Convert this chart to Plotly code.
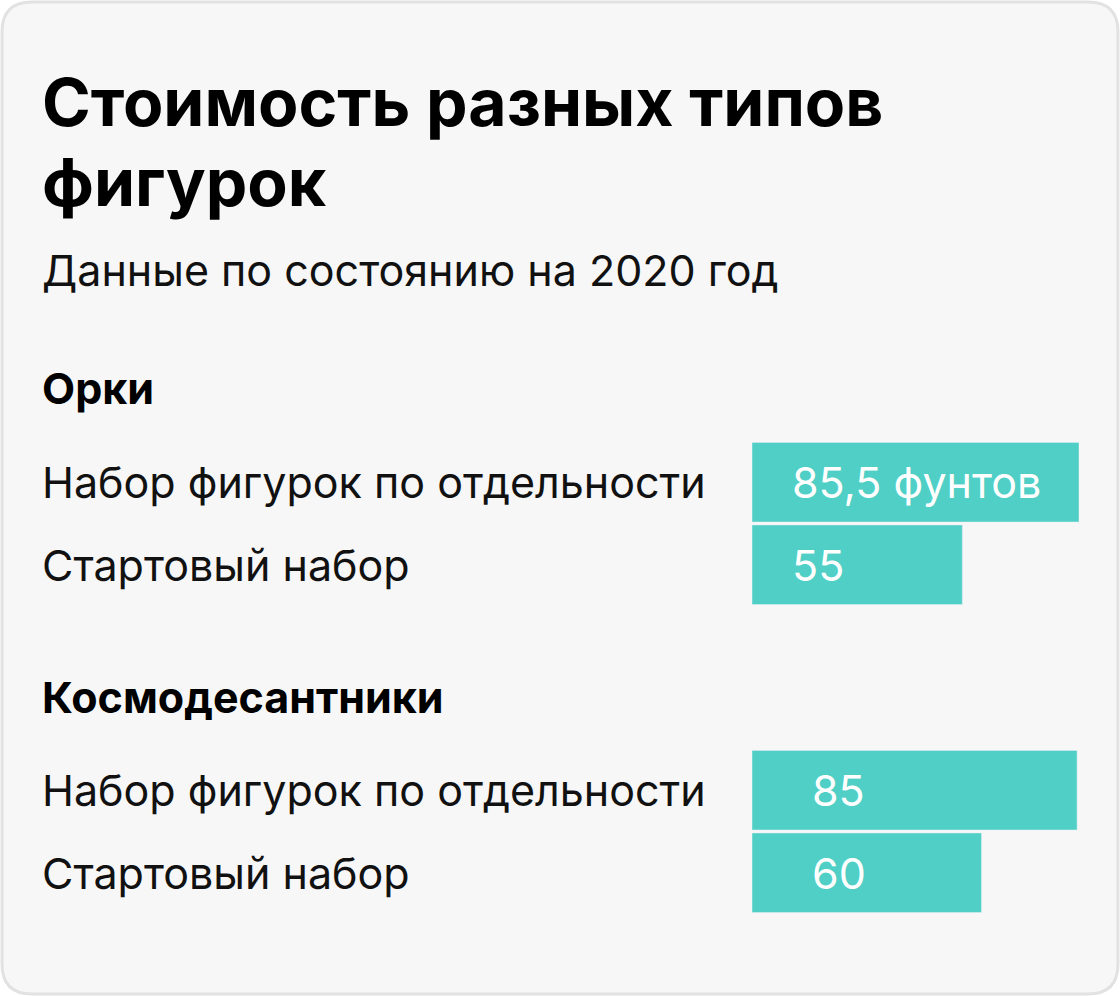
import plotly.graph_objects as go
import re

W, H = 1120, 996
title_lines = ["Стоимость разных типов", "фигурок"]
subtitle = "Данные по состоянию на 2020 год"
groups = ["Орки", "Космодесантники"]
categories = ["Набор фигурок по отдельности", "Стартовый набор"]
orcs = [85.5, 55]
marines = [85, 60]
orc_labels = ["85,5 фунтов", "55"]
marine_labels = ["85", "60"]

TEAL = "#4fcfc5"
FONT = "Inter"
FS = 43

def py(p):  # pixel y -> paper
    return 1 - p / H

fig = go.Figure()
fig.add_trace(go.Bar(x=orcs, y=categories, orientation="h", marker_color=TEAL,
                     xaxis="x", yaxis="y", hoverinfo="skip"))
fig.add_trace(go.Bar(x=marines, y=categories, orientation="h", marker_color=TEAL,
                     xaxis="x2", yaxis="y2", hoverinfo="skip"))

ann = []
for cat, lab in zip(categories, orc_labels):
    ann.append(dict(x=0, y=cat, xref="x", yref="y", text=lab, xanchor="left", xshift=38,
                    showarrow=False, font=dict(family=FONT, size=FS, color="white")))
    ann.append(dict(x=40 / W, y=cat, xref="paper", yref="y", text=cat, xanchor="left",
                    showarrow=False, font=dict(family=FONT, size=FS, color="#111")))
for cat, lab in zip(categories, marine_labels):
    ann.append(dict(x=0, y=cat, xref="x2", yref="y2", text=lab, xanchor="left", xshift=58,
                    showarrow=False, font=dict(family=FONT, size=FS, color="white")))
    ann.append(dict(x=40 / W, y=cat, xref="paper", yref="y2", text=cat, xanchor="left",
                    showarrow=False, font=dict(family=FONT, size=FS, color="#111")))

ann.append(dict(x=40 / W, y=py(102), xref="paper", yref="paper", text="<b>" + title_lines[0] + "</b>",
                xanchor="left", yanchor="middle", showarrow=False,
                font=dict(family=FONT, size=66, color="#000")))
ann.append(dict(x=40 / W, y=py(182), xref="paper", yref="paper", text="<b>" + title_lines[1] + "</b>",
                xanchor="left", yanchor="middle", showarrow=False,
                font=dict(family=FONT, size=66, color="#000")))
ann.append(dict(x=40 / W, y=py(270), xref="paper", yref="paper", text=subtitle,
                xanchor="left", yanchor="middle", showarrow=False,
                font=dict(family=FONT, size=FS, color="#111")))
for g, yp in zip(groups, [388, 697]):
    ann.append(dict(x=40 / W, y=py(yp), xref="paper", yref="paper", text="<b>" + g + "</b>",
                    xanchor="left", yanchor="middle", showarrow=False,
                    font=dict(family=FONT, size=FS, color="#000")))

r = 30
x0, y0, x1, y1 = 2, 2, W - 2, H - 2
path = (f"M {x0+r},{y0} L {x1-r},{y0} Q {x1},{y0} {x1},{y0+r} L {x1},{y1-r} Q {x1},{y1} {x1-r},{y1} "
        f"L {x0+r},{y1} Q {x0},{y1} {x0},{y1-r} L {x0},{y0+r} Q {x0},{y0} {x0+r},{y0} Z")
def conv(m):
    a, b = float(m.group(1)), float(m.group(2))
    return f"{a/W:.5f},{1-b/H:.5f}"
path = re.sub(r"([\d.]+),([\d.]+)", conv, path)

fig.update_layout(
    width=W, height=H, margin=dict(l=0, r=0, t=0, b=0),
    paper_bgcolor="white", plot_bgcolor="rgba(0,0,0,0)",
    showlegend=False, bargap=0.036,
    shapes=[dict(type="path", path=path, xref="paper", yref="paper", layer="below",
                 fillcolor="#f7f7f7", line=dict(color="#e2e2e2", width=3))],
    annotations=ann,
    xaxis=dict(domain=[752 / W, 1079 / W], range=[0, 85.5], visible=False),
    xaxis2=dict(domain=[752 / W, 1079 / W], range=[0, 85.5], visible=False, anchor="y2"),
    yaxis=dict(domain=[py(606), py(441)], autorange="reversed", visible=False),
    yaxis2=dict(domain=[py(914), py(749)], autorange="reversed", visible=False, anchor="x2"),
)
fig.write_html("out.html", config={"displayModeBar": False},
               post_script="document.body.style.margin='0';document.body.style.overflow='hidden';")
